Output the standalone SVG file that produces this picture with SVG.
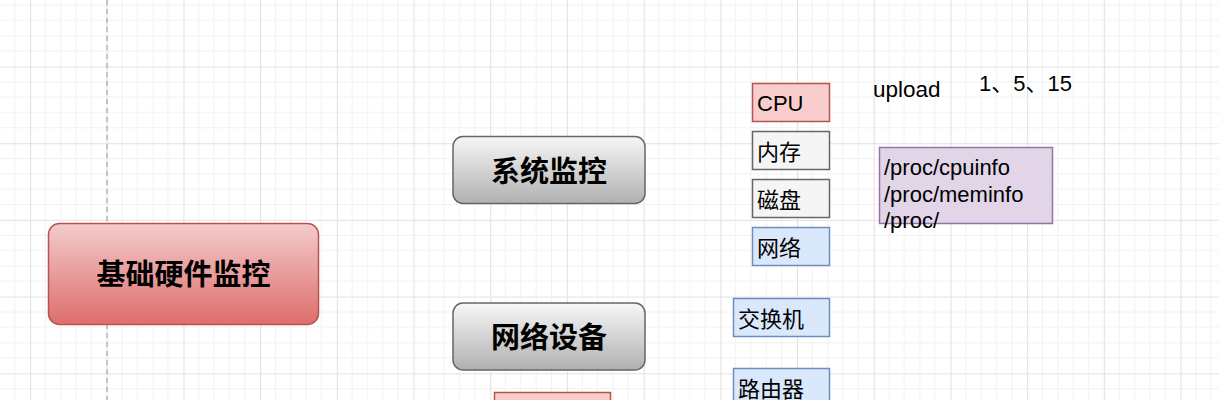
<svg xmlns="http://www.w3.org/2000/svg" width="1219" height="400" viewBox="0 0 1219 400">
<defs>
<pattern id="grid" patternUnits="userSpaceOnUse" x="30" y="66.5" width="76.7" height="76.7">
<path d="M15.34 0V76.7M30.68 0V76.7M46.02 0V76.7M61.36 0V76.7M0 15.34H76.7M0 30.68H76.7M0 46.02H76.7M0 61.36H76.7" fill="none" stroke="#f1f1f1" stroke-width="1"/>
<path d="M0.5 0V76.7M0 0.5H76.7" fill="none" stroke="#e2e2e2" stroke-width="1.2"/>
</pattern>
<linearGradient id="gRed" x1="0" y1="0" x2="0" y2="1">
<stop offset="0" stop-color="#f3cbcb"/>
<stop offset="1" stop-color="#dd6e6b"/>
</linearGradient>
<linearGradient id="gGray" x1="0" y1="0" x2="0" y2="1">
<stop offset="0" stop-color="#f7f7f7"/>
<stop offset="1" stop-color="#b0b0b0"/>
</linearGradient>
</defs>
<style>
.big{font-family:"Liberation Sans","Noto Sans CJK SC",sans-serif;font-weight:bold;font-size:29px;fill:#000;text-anchor:middle}
.lbl{font-family:"Liberation Sans","Noto Sans CJK SC",sans-serif;font-size:22px;fill:#000}
.red{fill:#f8cecc;stroke:#b85450;stroke-width:1.5}
.gray{fill:#f5f5f5;stroke:#666;stroke-width:1.5}
.blue{fill:#dae8fc;stroke:#6c8ebf;stroke-width:1.5}
.purple{fill:#e1d5e7;stroke:#9673a6;stroke-width:1.5}
</style>
<rect width="1219" height="400" fill="#fff"/>
<rect width="1219" height="400" fill="url(#grid)"/>
<line x1="107" y1="0" x2="107" y2="400" stroke="#a8a8a8" stroke-width="1.2" stroke-dasharray="5 4"/>
<g id="connectors"></g>
<g id="node-base">
<rect x="48.5" y="223.5" width="270" height="101" rx="11" fill="url(#gRed)" stroke="#b85450" stroke-width="1.5"/>
<text class="big" x="183.5" y="285">基础硬件监控</text>
</g>
<g id="node-system">
<rect x="453" y="136.5" width="192" height="67" rx="10" fill="url(#gGray)" stroke="#666" stroke-width="1.5"/>
<text class="big" x="549" y="182">系统监控</text>
</g>
<g id="node-network">
<rect x="453" y="303" width="192" height="67" rx="10" fill="url(#gGray)" stroke="#666" stroke-width="1.5"/>
<text class="big" x="549" y="348">网络设备</text>
</g>
<g id="node-bottom">
<rect x="494.5" y="392.5" width="116" height="20" class="red"/>
</g>
<g id="node-cpu">
<rect x="752.5" y="83.5" width="77" height="38" class="red"/>
<text class="lbl" x="757" y="111">CPU</text>
</g>
<g id="node-mem">
<rect x="752.5" y="131.5" width="77" height="38" class="gray"/>
<text class="lbl" x="757" y="160">内存</text>
</g>
<g id="node-disk">
<rect x="752.5" y="179.5" width="77" height="38" class="gray"/>
<text class="lbl" x="757" y="208">磁盘</text>
</g>
<g id="node-net">
<rect x="752.5" y="227.5" width="77" height="38" class="blue"/>
<text class="lbl" x="757" y="256">网络</text>
</g>
<g id="node-switch">
<rect x="733.5" y="298.5" width="96" height="38" class="blue"/>
<text class="lbl" x="738" y="327">交换机</text>
</g>
<g id="node-router">
<rect x="733.5" y="368.5" width="96" height="40" class="blue"/>
<text class="lbl" x="738" y="397">路由器</text>
</g>
<g id="text-upload">
<text class="lbl" x="873" y="97" style="font-size:22.5px">upload</text>
</g>
<g id="text-load">
<text class="lbl" x="979" y="91">1、5、15</text>
</g>
<g id="node-proc">
<rect x="879.5" y="147.5" width="173" height="76" class="purple"/>
<text class="lbl" x="884" y="175">/proc/cpuinfo</text>
<text class="lbl" x="884" y="202">/proc/meminfo</text>
<text class="lbl" x="884" y="228">/proc/</text>
</g>
</svg>
